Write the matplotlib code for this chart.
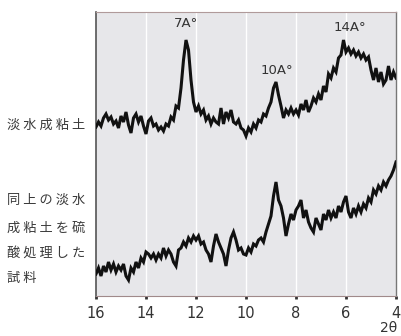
import numpy as np
import matplotlib
matplotlib.use("Agg")
import matplotlib.pyplot as plt

plt.rcParams['font.family'] = ['Noto Sans CJK JP', 'DejaVu Sans']

# 2-theta axis, 16 -> 4 in steps of 0.1
two_theta = [round(16.0 - 0.1 * i, 1) for i in range(121)]

# Upper trace: freshwater clay (arbitrary intensity units)
upper = [169, 174, 170, 178, 182, 176, 179, 172, 175, 168,
         180, 174, 184, 171, 163, 178, 182, 174, 180, 170,
         162, 175, 178, 170, 172, 166, 169, 165, 172, 170,
         179, 176, 190, 188, 208, 236, 256, 246, 216, 194,
         184, 190, 182, 186, 176, 180, 172, 178, 174, 172,
         188, 172, 184, 178, 186, 174, 172, 176, 168, 166,
         160, 168, 164, 172, 168, 176, 174, 182, 180, 188,
         194, 208, 214, 201, 190, 178, 186, 182, 188, 182,
         186, 181, 192, 186, 196, 184, 190, 198, 194, 202,
         196, 210, 204, 222, 218, 228, 224, 238, 241, 256,
         244, 248, 242, 246, 240, 244, 238, 242, 236, 239,
         226, 216, 228, 214, 224, 212, 216, 230, 216, 224,
         218]

# Lower trace: same clay after sulfuric acid treatment
lower = [22, 28, 20, 30, 24, 34, 26, 32, 24, 30,
         26, 32, 20, 16, 28, 24, 34, 28, 38, 34,
         44, 42, 38, 42, 36, 42, 38, 48, 40, 46,
         42, 34, 30, 46, 48, 54, 50, 58, 54, 60,
         56, 60, 52, 54, 46, 42, 34, 50, 62, 54,
         48, 42, 30, 46, 58, 64, 56, 46, 48, 42,
         41, 48, 44, 52, 50, 56, 58, 54, 64, 72,
         80, 100, 114, 96, 90, 78, 60, 72, 82, 76,
         86, 90, 96, 78, 86, 74, 68, 64, 78, 72,
         66, 82, 76, 86, 78, 84, 78, 90, 84, 94,
         100, 84, 78, 88, 82, 90, 84, 92, 88, 98,
         94, 106, 102, 110, 106, 114, 110, 116, 120, 126,
         134]

xticks = [16, 14, 12, 10, 8, 6, 4]
gridlines = [14, 12, 10, 8, 6]

peak_labels = ["7A°", "10A°", "14A°"]
peak_pos = [12.4, 8.75, 5.85]
peak_height = [256, 214, 256]
peak_offset = [10, 5, 6]

left_labels = ["淡水成粘土", "同上の淡水", "成粘土を硫", "酸処理した", "試料"]
left_label_y = [125, 200, 228, 253, 278]  # figure pixel rows (from top)

W, H = 401, 336
fig = plt.figure(figsize=(W / 100, H / 100), dpi=100)
ax = fig.add_axes([96 / W, (H - 296) / H, 300 / W, 284 / H])
ax.set_facecolor('#e7e7ea')

for g in gridlines:
    ax.axvline(g, color='white', lw=1.0, zorder=1)

ax.plot(two_theta, upper, color='#111111', lw=2.2, zorder=3, solid_joinstyle='miter')
ax.plot(two_theta, lower, color='#111111', lw=2.2, zorder=3, solid_joinstyle='miter')

ax.set_xlim(16, 4)
ax.set_ylim(0, 284)
ax.set_yticks([])
ax.set_xticks(xticks)
ax.set_xticklabels([str(t) for t in xticks], fontsize=10.5, color='#333333',
                   family=['DejaVu Sans'])
ax.tick_params(axis='x', length=2.5, width=2.0, direction='out', color='#333333', pad=5)

ax.spines['left'].set_color('#555555')
ax.spines['left'].set_linewidth(1.2)
ax.spines['right'].set_color('#777777')
ax.spines['right'].set_linewidth(1.0)
ax.spines['top'].set_color('#b09a9a')
ax.spines['top'].set_linewidth(0.8)
ax.spines['bottom'].set_color('#a08a8a')
ax.spines['bottom'].set_linewidth(0.8)

for lab, xp, hp, off in zip(peak_labels, peak_pos, peak_height, peak_offset):
    ax.text(xp, hp + off, lab, ha='center', va='bottom', fontsize=9.5,
            color='#333333', family=['DejaVu Sans'])

for lab, yp in zip(left_labels, left_label_y):
    fig.text(7 / W, 1 - yp / H, " ".join(lab), ha='left', va='center',
             fontsize=9.5, color='#3a3a3a')

fig.text(389 / W, 1 - 328 / H, "2θ", ha='center', va='center', fontsize=10,
         color='#333333', family=['DejaVu Sans'])

fig.savefig("out.png", dpi=100)
